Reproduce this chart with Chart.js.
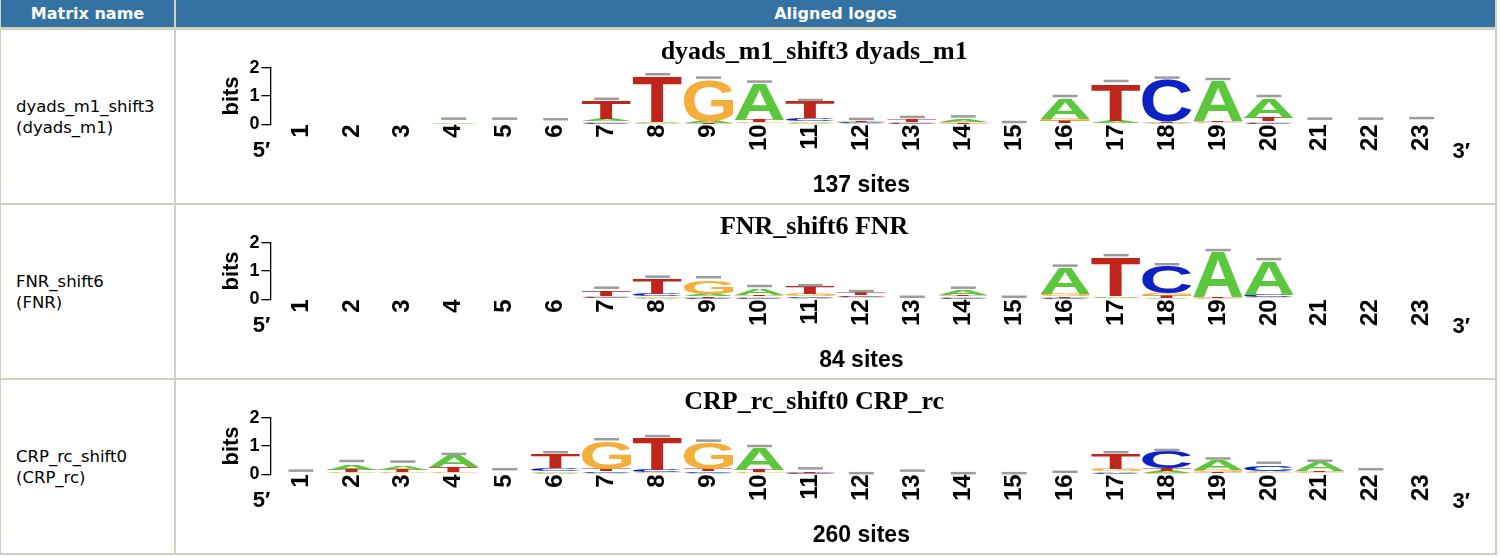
<!DOCTYPE html>
<html>
<head>
<meta charset="utf-8">
<script src="https://cdn.jsdelivr.net/npm/chart.js@4"></script>
<style>
  body { margin: 0; background: #fff; }
  #sheet { position: absolute; left: 0; top: 0; width: 1497px; height: 555px; background: #d3d0bf; }
  .cell { position: absolute; background: #fff; }
  .head { background: #3372a3; color: #fff; font: bold 16px "DejaVu Sans", Verdana, sans-serif;
          display: flex; align-items: center; justify-content: center; }
  .name { font: 16.5px "DejaVu Sans", Verdana, sans-serif; color: #000; line-height: 21px;
          display: flex; align-items: center; padding-left: 15px; box-sizing: border-box; }
  canvas { display: block; }
</style>
</head>
<body>
<div id="sheet">
  <div class="cell head" style="left:1px;top:0;width:173px;height:27px">Matrix name</div>
  <div class="cell head" style="left:176px;top:0;width:1319px;height:27px">Aligned logos</div>
</div>

<script>
// positions along the alignment
const positions = [1, 2, 3, 4, 5, 6, 7, 8, 9, 10, 11, 12, 13, 14, 15, 16, 17, 18, 19, 20, 21, 22, 23];

// dyads_m1_shift3 (dyads_m1), heights in bits
const aDyads = [0, 0, 0, 0.05, 0, 0, 0.08, 0.03, 0.07, 1.29, 0.06, 0.03, 0.02, 0.10, 0, 0.73, 0.07, 0.04, 1.42, 0.70, 0, 0, 0];
const cDyads = [0, 0, 0, 0, 0, 0, 0.05, 0.02, 0.02, 0.04, 0.10, 0.03, 0.02, 0.02, 0, 0.04, 0.03, 1.50, 0.04, 0.05, 0, 0, 0];
const gDyads = [0, 0, 0, 0, 0, 0, 0.06, 0.02, 1.46, 0.04, 0.05, 0.02, 0.03, 0.03, 0, 0.08, 0.03, 0.02, 0.04, 0.06, 0, 0, 0];
const tDyads = [0, 0, 0, 0, 0, 0, 0.63, 1.62, 0.02, 0.08, 0.59, 0.03, 0.08, 0.02, 0, 0.07, 1.30, 0.04, 0.05, 0.11, 0, 0, 0];
const capDyads = [null, null, null, 0.20, 0.20, 0.18, 0.90, 1.77, 1.65, 1.51, 0.86, 0.19, 0.26, 0.28, 0.08, 1.00, 1.53, 1.65, 1.60, 1.00, 0.20, 0.20, 0.22];

// FNR_shift6 (FNR)
const aFnr = [0, 0, 0, 0, 0, 0, 0.04, 0.06, 0.08, 0.23, 0.05, 0.04, 0, 0.17, 0, 0.93, 0.06, 0.05, 1.61, 1.20, 0, 0, 0];
const cFnr = [0, 0, 0, 0, 0, 0, 0.04, 0.08, 0.05, 0.05, 0.05, 0.06, 0, 0.05, 0, 0.05, 0.03, 0.96, 0.02, 0.07, 0, 0, 0];
const gFnr = [0, 0, 0, 0, 0, 0, 0.05, 0.06, 0.47, 0.05, 0.07, 0.04, 0, 0.05, 0, 0.09, 0.03, 0.09, 0.02, 0.05, 0, 0, 0];
const tFnr = [0, 0, 0, 0, 0, 0, 0.19, 0.53, 0.05, 0.05, 0.27, 0.09, 0, 0.05, 0, 0.05, 1.36, 0.07, 0.03, 0.04, 0, 0, 0];
const capFnr = [null, null, null, null, null, null, 0.41, 0.80, 0.78, 0.47, 0.50, 0.29, 0.09, 0.41, 0.09, 1.19, 1.56, 1.24, 1.74, 1.42, null, null, null];

// CRP_rc_shift0 (CRP_rc)
const aCrp = [0, 0.17, 0.13, 0.40, 0, 0.06, 0.05, 0.04, 0.05, 0.76, 0.02, 0, 0, 0, 0, 0, 0.06, 0.07, 0.34, 0.06, 0.32, 0, 0];
const cCrp = [0, 0.04, 0.04, 0.04, 0, 0.09, 0.05, 0.07, 0.05, 0.04, 0.02, 0, 0, 0, 0, 0, 0.05, 0.58, 0.04, 0.20, 0.04, 0, 0];
const gCrp = [0, 0.05, 0.04, 0.04, 0, 0.06, 0.96, 0.04, 0.93, 0.05, 0.02, 0, 0, 0, 0, 0, 0.07, 0.06, 0.08, 0.04, 0.04, 0, 0];
const tCrp = [0, 0.07, 0.08, 0.17, 0, 0.51, 0.09, 1.12, 0.09, 0.07, 0.05, 0, 0, 0, 0, 0, 0.54, 0.09, 0.04, 0.03, 0.05, 0, 0];
const capCrp = [0.13, 0.47, 0.45, 0.72, 0.18, 0.78, 1.24, 1.35, 1.19, 1.00, 0.21, 0.04, 0.13, 0.04, 0.04, 0.09, 0.78, 0.86, 0.56, 0.41, 0.48, 0.18, null];

const matrixNames = ['dyads_m1_shift3', 'FNR_shift6', 'CRP_rc_shift0'];
const matrixIds = ['(dyads_m1)', '(FNR)', '(CRP_rc)'];
const logoTitles = ['dyads_m1_shift3 dyads_m1', 'FNR_shift6 FNR', 'CRP_rc_shift0 CRP_rc'];
const siteLabels = ['137 sites', '84 sites', '260 sites'];

const rowData = [
  { A: aDyads, C: cDyads, G: gDyads, T: tDyads, caps: capDyads },
  { A: aFnr, C: cFnr, G: gFnr, T: tFnr, caps: capFnr },
  { A: aCrp, C: cCrp, G: gCrp, T: tCrp, caps: capCrp }
];

const letterColors = { A: '#5bc73c', C: '#0c22c4', G: '#f3ae3c', T: '#bf251b' };
const LOGO_FONT = '"Liberation Sans", Arial, Helvetica, sans-serif';

// stretch one glyph so its ink fills the bar rectangle
function drawLetter(ctx, ch, x, y, w, h) {
  ctx.font = 'bold 100px ' + LOGO_FONT;
  const m = ctx.measureText(ch);
  const l = m.actualBoundingBoxLeft, r = m.actualBoundingBoxRight;
  const a = m.actualBoundingBoxAscent, d = m.actualBoundingBoxDescent;
  ctx.save();
  ctx.translate(x, y);
  ctx.scale(w / (l + r), h / (a + d));
  ctx.fillStyle = letterColors[ch];
  ctx.textAlign = 'left';
  ctx.textBaseline = 'alphabetic';
  ctx.fillText(ch, l, a);
  ctx.restore();
}

function logoPlugin(caps) {
  return {
    id: 'logo',
    afterDatasetsDraw(chart) {
      const ctx = chart.ctx;
      const xs = chart.scales.x, ys = chart.scales.y;
      chart.data.datasets.forEach((ds, i) => {
        chart.getDatasetMeta(i).data.forEach((bar, j) => {
          const top = Math.min(bar.y, bar.base);
          const h = Math.abs(bar.base - bar.y);
          if (h < 0.4) return;
          drawLetter(ctx, ds.letters[j], bar.x - bar.width / 2, top, bar.width, h);
        });
      });
      // small-sample error bars
      ctx.save();
      ctx.fillStyle = '#9c9c9c';
      caps.forEach((c, j) => {
        if (c == null) return;
        const px = xs.getPixelForValue(positions[j]);
        const py = ys.getPixelForValue(c);
        ctx.fillRect(px - 12.5, py - 1.25, 25, 2.5);
      });
      ctx.restore();
    },
    afterDraw(chart) {
      const ctx = chart.ctx, area = chart.chartArea;
      ctx.save();
      ctx.font = 'bold 22px ' + LOGO_FONT;
      ctx.fillStyle = '#000';
      ctx.textAlign = 'center';
      ctx.textBaseline = 'middle';
      ctx.fillText('5\u2032', area.left - 9, area.bottom + 27);
      ctx.fillText('3\u2032', area.right + 9, area.bottom + 28);
      ctx.restore();
    }
  };
}

// bottom-to-top ranks: smallest letter at the bottom, largest on top
function rankDatasets(row) {
  const ranks = [0, 1, 2, 3].map(() => ({ data: [], letters: [] }));
  positions.forEach((p, j) => {
    const col = ['A', 'C', 'G', 'T'].map(l => ({ l, h: row[l][j] }));
    col.sort((u, v) => u.h - v.h);
    col.forEach((c, r) => { ranks[r].data.push(c.h); ranks[r].letters.push(c.l); });
  });
  return ranks.map((rk, r) => ({
    label: 'rank ' + r,
    data: rk.data,
    letters: rk.letters,
    backgroundColor: 'rgba(0,0,0,0)',
    borderWidth: 0,
    barPercentage: 0.97,
    categoryPercentage: 1
  }));
}

const sheet = document.getElementById('sheet');
const rowTops = [30, 205, 380];

rowData.forEach((row, k) => {
  const top = rowTops[k];
  const name = document.createElement('div');
  name.className = 'cell name';
  name.style.cssText = `left:1px;top:${top}px;width:173px;height:173px`;
  name.innerHTML = matrixNames[k] + '<br>' + matrixIds[k];
  sheet.appendChild(name);

  const cell = document.createElement('div');
  cell.className = 'cell';
  cell.style.cssText = `left:176px;top:${top}px;width:1319px;height:173px`;
  const canvas = document.createElement('canvas');
  canvas.width = 1319;
  canvas.height = 173;
  cell.appendChild(canvas);
  sheet.appendChild(cell);

  new Chart(canvas.getContext('2d'), {
    type: 'bar',
    data: { labels: positions, datasets: rankDatasets(row) },
    plugins: [logoPlugin(row.caps)],
    options: {
      responsive: false,
      animation: false,
      layout: { padding: { left: 0, right: 42.7, top: 0, bottom: 0 } },
      plugins: {
        legend: { display: false },
        tooltip: { enabled: false },
        title: {
          display: true,
          text: logoTitles[k],
          color: '#000',
          font: { family: '"Liberation Serif", "Times New Roman", serif', size: 26, weight: 'bold' },
          padding: { top: 6.5, bottom: 0 }
        }
      },
      scales: {
        x: {
          type: 'linear',
          offset: false,
          min: 0.4,
          max: 23.6,
          stacked: true,
          afterBuildTicks: axis => { axis.ticks = positions.map(v => ({ value: v })); },
          afterFit: axis => { axis.height = 78.7; },
          grid: { display: false, drawTicks: false },
          border: { display: false },
          ticks: {
            autoSkip: false,
            minRotation: 90,
            maxRotation: 90,
            padding: 0,
            color: '#000',
            font: { family: LOGO_FONT, size: 24, weight: 'bold' },
            callback: v => String(v)
          },
          title: {
            display: true,
            text: siteLabels[k],
            color: '#000',
            font: { family: LOGO_FONT, size: 23, weight: 'bold' },
            padding: { top: 0, bottom: 4 }
          }
        },
        y: {
          min: 0,
          max: 2,
          stacked: true,
          afterFit: axis => { axis.width = 94.4; },
          grid: { drawOnChartArea: false, color: '#000', tickLength: 9, lineWidth: 1.3 },
          border: { display: true, color: '#000', width: 1.3 },
          ticks: {
            stepSize: 1,
            padding: 2,
            color: '#000',
            font: { family: LOGO_FONT, size: 18, weight: 'bold' }
          },
          title: {
            display: true,
            text: 'bits',
            color: '#000',
            font: { family: LOGO_FONT, size: 22, weight: 'bold' },
            padding: { top: 43, bottom: 0 }
          }
        }
      }
    }
  });
});
</script>
</body>
</html>
